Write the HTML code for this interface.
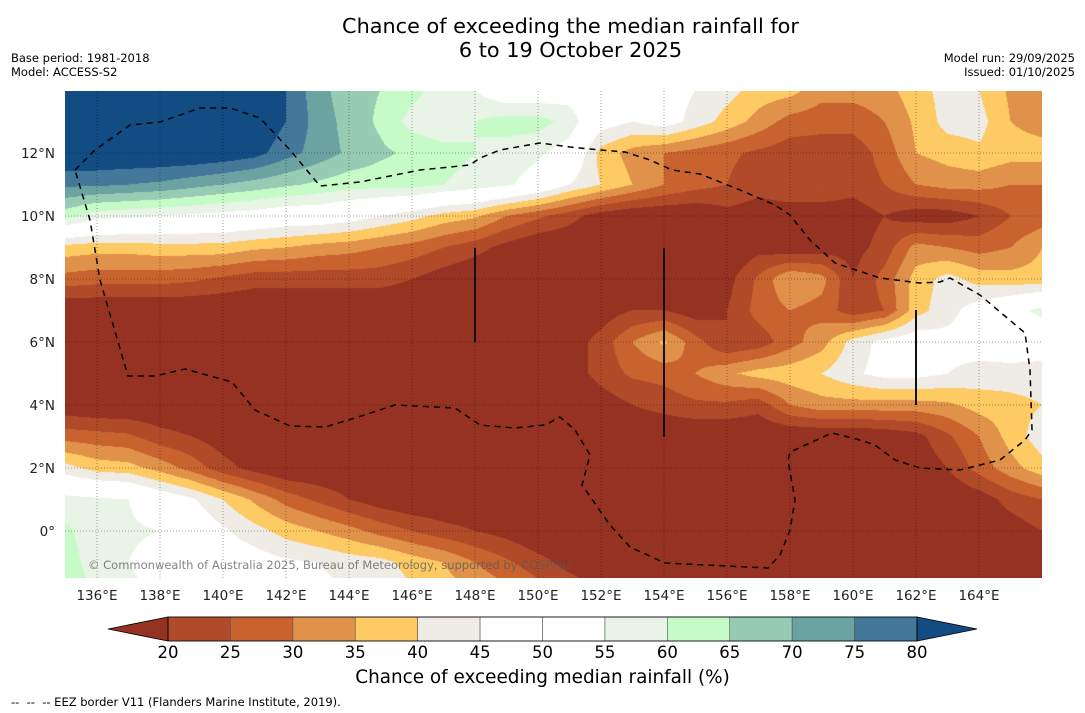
<!DOCTYPE html>
<html><head><meta charset="utf-8">
<style>
html,body{margin:0;padding:0;background:#fff;width:1085px;height:713px;overflow:hidden;font-family:"DejaVu Sans","Liberation Sans",sans-serif;}
#root{position:relative;width:1085px;height:713px;}
.t{position:absolute;white-space:nowrap;color:#000;}
</style></head>
<body>
<div id="root">
<div class="t" style="left:0;width:1141px;text-align:center;top:14px;font-size:20.8px;line-height:24px;">Chance of exceeding the median rainfall for<br>6 to 19 October 2025</div>
<div class="t" style="left:11px;top:51px;font-size:11.5px;line-height:14px;">Base period: 1981-2018<br>Model: ACCESS-S2</div>
<div class="t" style="right:10px;top:51px;font-size:11.5px;line-height:14px;text-align:right;">Model run: 29/09/2025<br>Issued: 01/10/2025</div>
<canvas id="map" width="977" height="487" style="position:absolute;left:65px;top:91px;"></canvas>
<svg id="ov" width="1085" height="713" style="position:absolute;left:0;top:0;"></svg>
<div class="t" style="left:88px;top:558px;font-size:11.5px;color:rgba(90,90,90,0.75);">© Commonwealth of Australia 2025, Bureau of Meteorology, supported by COSPPac</div>
<div class="t" style="left:0;width:1085px;text-align:center;top:667px;font-size:18.4px;">Chance of exceeding median rainfall (%)</div>
<div class="t" style="left:11px;top:695px;font-size:11.5px;">--&nbsp; --&nbsp; -- EEZ border V11 (Flanders Marine Institute, 2019).</div>
</div>
<script>
const lons=[135,136,137,138,139,140,141,142,143,144,145,146,147,148,149,150,151,152,153,154,155,156,157,158,159,160,161,162,163,164,165,166];
const lats=[14,13,12,11,10,9,8,7,6,5,4,3,2,1,0,-1,-2];
const r14=[85,85,85,85,85,85,85,80,72,67,65,62,57,55,50,50,52,48,45,48,45,42,38,37,32,32,33,38,42,40,34,32];
const r13=[85,85,86,86,86,86,85,80,73,68,64,58,56,60,62,62,58,48,45,48,43,38,33,28,27,27,30,36,42,42,35,33];
const r12=[85,85,85,85,85,84,82,77,73,69,66,64,62,60,58,56,52,38,33,30,28,26,24,22,22,22,27,35,37,39,37,37];
const r11=[76,76,75,74,72,70,68,66,64,62,62,62,60,58,56,52,45,40,35,30,27,25,22,24,25,22,25,30,32,32,30,30];
const r10=[62,57,56,55,54,53,52,50,50,48,45,42,38,36,30,26,22,17,15,15,15,18,17,17,16,17,20,17,17,20,25,27];
const r9=[38,37,37,38,38,38,36,35,33,32,30,28,25,22,18,15,15,15,15,15,15,15,18,16,17,18,22,32,30,28,30,35];
const r8=[28,27,27,27,26,24,22,22,22,22,22,20,17,15,15,15,15,17,17,15,15,18,26,35,32,20,27,37,42,38,37,37];
const r7=[15,15,15,15,15,15,15,15,15,15,15,15,15,15,15,15,15,17,20,20,17,20,27,30,28,22,25,38,43,48,52,57];
const r6=[15,15,15,15,15,15,15,15,15,15,15,15,15,15,15,15,17,22,30,36,27,20,22,28,33,42,47,49,47,48,49,48];
const r5=[15,15,15,15,15,15,15,15,15,15,15,15,15,15,15,15,17,22,26,27,30,34,37,38,40,44,47,47,45,43,43,43];
const r4=[16,15,15,15,15,15,15,15,15,15,15,15,15,15,15,15,15,17,20,22,24,24,22,30,33,33,33,33,34,37,38,40];
const r3=[28,27,26,22,20,17,15,15,15,15,15,15,15,15,15,15,15,15,15,15,15,15,15,15,15,15,16,18,24,30,37,43];
const r2=[42,38,37,33,28,22,18,15,15,15,15,15,15,15,15,15,15,15,15,15,15,15,15,15,15,15,15,16,20,27,33,38];
const r1=[57,56,55,50,46,40,34,28,24,20,17,15,15,15,15,15,15,15,15,15,15,15,15,15,15,15,15,15,15,17,22,25];
const r0=[61,57,56,55,50,46,42,38,35,32,28,25,22,20,18,15,15,15,15,15,15,15,15,15,15,15,15,15,15,15,17,20];
const rm1=[62,58,55,52,50,49,48,46,45,43,42,38,35,30,26,22,18,16,15,15,15,15,15,15,15,15,15,15,15,15,15,15];
const rm2=[62,60,57,53,50,50,49,48,47,45,43,41,38,35,32,28,24,20,17,15,15,15,15,15,15,15,15,15,15,15,15,15];
const grid=[r14,r13,r12,r11,r10,r9,r8,r7,r6,r5,r4,r3,r2,r1,r0,rm1,rm2];
const levels=[20,25,30,35,40,45,50,55,60,65,70,75,80];
const colors=["#963222","#b04a28","#c8632f","#e0914a","#fdca64","#efebe5","#ffffff","#ffffff","#e7f4e6","#c6fbc8","#98cbb4","#6ba3a3","#44789a","#134b83"];
const xTicks=[136,138,140,142,144,146,148,150,152,154,156,158,160,162,164];
const yTicks=[0,2,4,6,8,10,12];

const X0=65.5,PX=31.5,Y0=531;
const xOf=lon=>X0+(lon-135)*PX;
const yOf=lat=>Y0-lat*PX;
function binIndex(v){let i=0;while(i<levels.length&&v>=levels[i])i++;return i;}
function hex(c){return [parseInt(c.substr(1,2),16),parseInt(c.substr(3,2),16),parseInt(c.substr(5,2),16)];}
const rgb=colors.map(hex);

const cv=document.getElementById('map');const ctx=cv.getContext('2d');
const W=cv.width,H=cv.height;const img=ctx.createImageData(W,H);
for(let py=0;py<H;py++){
  const lat=(Y0-(py+91.5))/PX;
  let fr=(lats[0]-lat);let i0=Math.floor(fr);if(i0<0)i0=0;if(i0>lats.length-2)i0=lats.length-2;const ty=Math.min(1,Math.max(0,fr-i0));
  for(let px=0;px<W;px++){
    const lon=135+((px+65.5)-X0)/PX;
    let fc=lon-lons[0];let j0=Math.floor(fc);if(j0<0)j0=0;if(j0>lons.length-2)j0=lons.length-2;const tx=Math.min(1,Math.max(0,fc-j0));
    const a=grid[i0][j0],b=grid[i0][j0+1],c=grid[i0+1][j0],d=grid[i0+1][j0+1];
    const v=(a*(1-tx)+b*tx)*(1-ty)+(c*(1-tx)+d*tx)*ty;
    const col=rgb[binIndex(v)];const k=(py*W+px)*4;
    img.data[k]=col[0];img.data[k+1]=col[1];img.data[k+2]=col[2];img.data[k+3]=255;
  }
}
ctx.putImageData(img,0,0);

const NS='http://www.w3.org/2000/svg';const svg=document.getElementById('ov');
function el(tag,attrs,parent){const e=document.createElementNS(NS,tag);for(const k in attrs)e.setAttribute(k,attrs[k]);(parent||svg).appendChild(e);return e;}

xTicks.forEach(l=>{
  const g=el('line',{x1:xOf(l),x2:xOf(l),y1:91,y2:578,stroke:'rgba(0,0,0,0.35)','stroke-width':1,'stroke-dasharray':'1,2'});
  
  
  const t=el('text',{x:xOf(l),y:600,'text-anchor':'middle','font-size':13.5,fill:'#222','font-family':'DejaVu Sans, sans-serif'});
  t.textContent=l+'°E';
  
  
});
yTicks.forEach(l=>{
  const g=el('line',{x1:65,x2:1042,y1:yOf(l),y2:yOf(l),stroke:'rgba(0,0,0,0.35)','stroke-width':1,'stroke-dasharray':'1,2'});
  
  
  const t=el('text',{x:55,y:yOf(l)+5,'text-anchor':'end','font-size':13.5,fill:'#222','font-family':'DejaVu Sans, sans-serif'});
  t.textContent=l===0?'0°':l+'°N';
  
  
});

const eez=[[75,170],[95,150],[130,125],[160,122],[200,108],[230,108],[260,118],[290,150],[320,186],[360,182],[420,170],[470,165],[480,158],[500,150],[540,143],[570,147],[600,150],[625,152],[650,160],[672,170],[700,174],[740,190],[775,205],[790,215],[810,240],[835,263],[880,278],[920,283],[940,282],[950,278],[980,295],[1025,333],[1030,370],[1032,430],[1025,440],[1000,460],[960,470],[920,468],[895,460],[875,445],[860,440],[832,433],[790,452],[788,460],[795,500],[790,530],[780,555],[768,568],[665,563],[630,547],[610,525],[582,485],[590,455],[575,430],[560,417],[545,425],[515,428],[480,425],[455,408],[395,405],[355,418],[325,427],[290,426],[255,410],[232,382],[185,369],[155,376],[128,376],[100,280],[90,220],[75,170]];
const ez=el('polyline',{points:eez.map(p=>p.join(',')).join(' '),fill:'none',stroke:'#000','stroke-width':1.5,'stroke-dasharray':'6,5'});


[[475,248,342],[664,248,437],[916,310,405]].forEach(s=>{
  const l=el('line',{x1:s[0],x2:s[0],y1:s[1],y2:s[2],stroke:'#111','stroke-width':2});
  
  
});

const cbL=168,cbR=917,cbT=617,cbB=641;const bw=(cbR-cbL)/(levels.length-1);
for(let i=0;i<levels.length-1;i++){
  const r=el('rect',{x:cbL+i*bw,y:cbT,width:bw,height:cbB-cbT,fill:colors[i+1],stroke:'#555','stroke-width':0.6});
  
  
}
const tl=el('polygon',{points:`${cbL},${cbT} ${cbL},${cbB} 108,629`,fill:colors[0],stroke:'#000','stroke-width':0.8});


const tr=el('polygon',{points:`${cbR},${cbT} ${cbR},${cbB} 977,629`,fill:colors[colors.length-1],stroke:'#000','stroke-width':0.8});


const fr=el('rect',{x:cbL,y:cbT,width:cbR-cbL,height:cbB-cbT,fill:'none',stroke:'#000','stroke-width':0.8});


levels.forEach((v,i)=>{
  const t=el('text',{x:cbL+i*bw,y:658,'text-anchor':'middle','font-size':16.5,fill:'#000','font-family':'DejaVu Sans, sans-serif'});
  t.textContent=v;
  
  
});
</script>
</body></html>
